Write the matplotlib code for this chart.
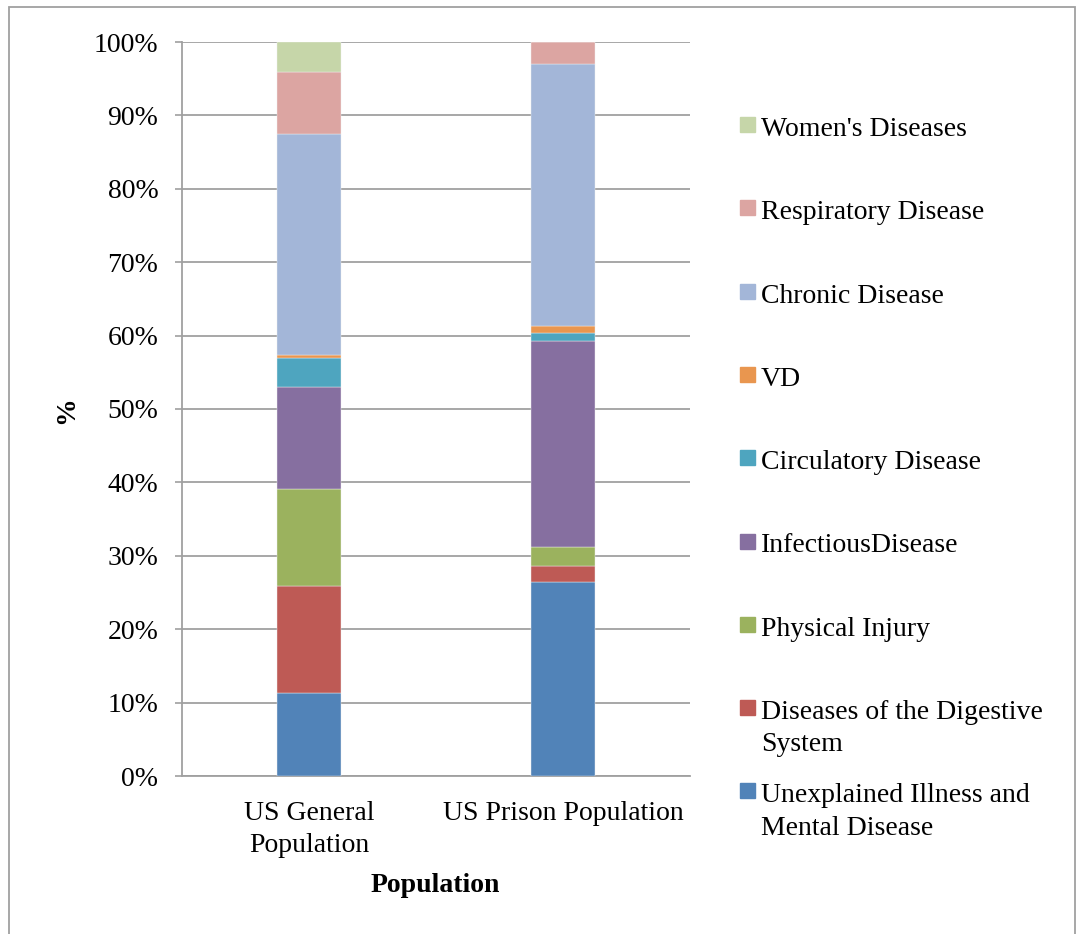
import matplotlib.pyplot as plt
from matplotlib.patches import Rectangle
import numpy as np

# share of deaths (%) by cause, per population
populations = ['US General\nPopulation', 'US Prison Population']
causes = ['Unexplained Illness and\nMental Disease',
          'Diseases of the Digestive\nSystem',
          'Physical Injury',
          'InfectiousDisease',
          'Circulatory Disease',
          'VD',
          'Chronic Disease',
          'Respiratory Disease',
          "Women's Diseases"]
general = [11.3, 14.6, 13.25, 13.85, 3.95, 0.35, 30.2, 8.4, 4.1]
prison = [26.4, 2.2, 2.6, 28.06, 1.04, 1.0, 35.75, 2.95, 0.0]
colors = ['#5183B8', '#BE5A55', '#9BB25E', '#866FA0', '#4EA5BF',
          '#E9964F', '#A3B6D8', '#DCA5A2', '#C6D6A9']

plt.rcParams['font.family'] = ['Liberation Serif', 'DejaVu Serif']
grey = '#A0A0A0'
fs = 20

fig = plt.figure(figsize=(10.77, 9.34), dpi=100)
ax = fig.add_axes([182/1077, 1-776/934, 508/1077, 734/934])

x = np.arange(len(populations))
vals = np.array([general, prison])
bottom = np.zeros(len(populations))
for i, cause in enumerate(causes):
    ax.bar(x, vals[:, i], 0.25, bottom=bottom, color=colors[i],
           edgecolor='#F0F0F0', linewidth=0.3, zorder=3, label=cause)
    bottom += vals[:, i]

ax.set_xlim(-0.5, 1.5)
ax.set_ylim(0, 100)
ax.set_yticks(np.arange(0, 101, 10))
ax.set_yticklabels(['{}%'.format(v) for v in range(0, 101, 10)])
ax.set_xticks(x)
ax.set_xticklabels(populations, fontsize=fs, linespacing=1.35)
ax.tick_params(axis='y', labelsize=fs, length=5, width=1.2, color=grey, pad=12)
ax.tick_params(axis='x', length=0, pad=18)
ax.yaxis.grid(True, color=grey, linewidth=1.3, zorder=0)
for s in ['top', 'right']:
    ax.spines[s].set_visible(False)
for s in ['left', 'bottom']:
    ax.spines[s].set_color(grey)
    ax.spines[s].set_linewidth(1.3)

fig.text(435/1077, 1-886/934, 'Population', fontsize=fs, fontweight='bold',
         ha='center', va='center')
fig.text(67/1077, 1-410/934, '%', fontsize=fs, fontweight='bold',
         rotation=90, ha='center', va='center')

# legend drawn by hand, top entry first
for k, i in enumerate(range(len(causes) - 1, -1, -1)):
    yc = 127 + 83.3 * k
    fig.patches.append(Rectangle((740/1077, 1-(yc+5)/934), 15/1077, 15/934,
                                 transform=fig.transFigure, color=colors[i]))
    fig.text(761/1077, 1-(yc-10)/934, causes[i], fontsize=fs,
             ha='left', va='top', linespacing=1.38)

# outer frame
fig.patches.append(Rectangle((9/1077, -0.05), 1066/1077, 1-7/934+0.05,
                             transform=fig.transFigure, fill=False,
                             edgecolor=grey, linewidth=1.3))

fig.savefig('out.png', dpi=100)
